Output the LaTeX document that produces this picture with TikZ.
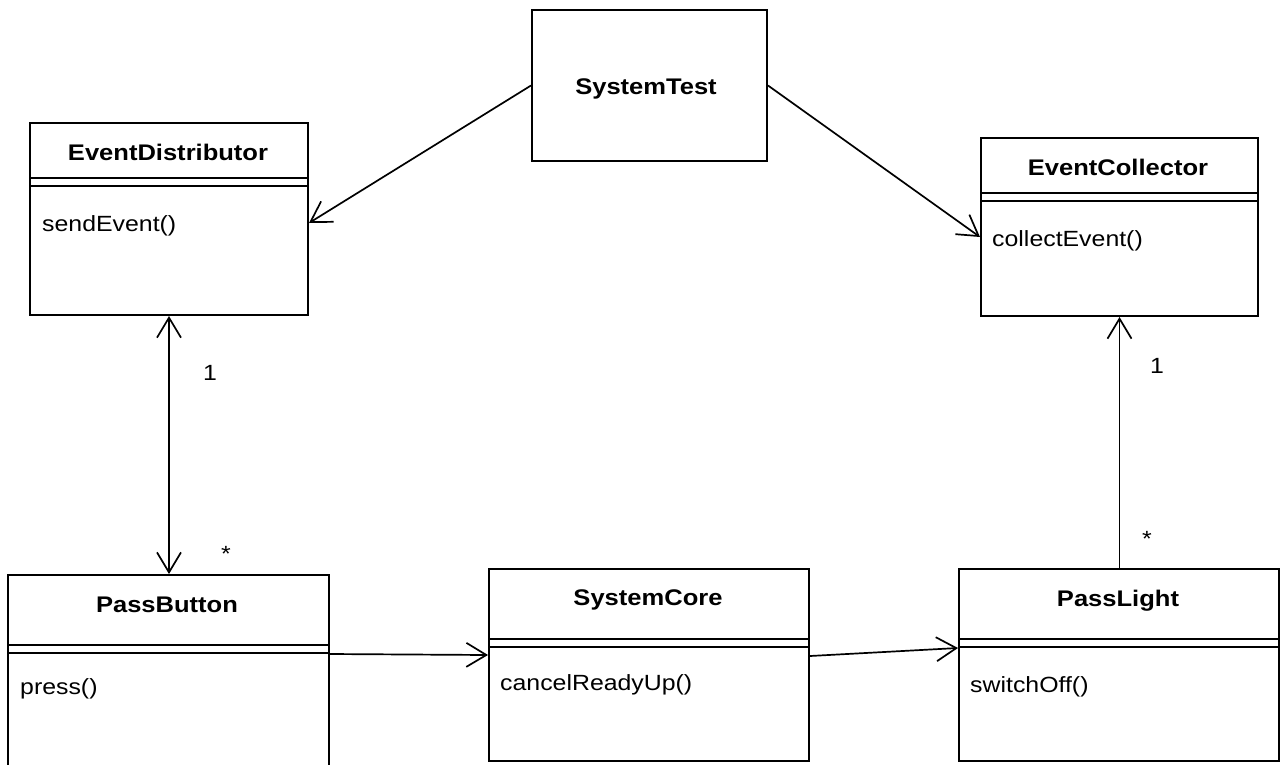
\documentclass[tikz,border=0pt]{standalone}
\usepackage{fontspec}
\setmainfont{Liberation Sans}[FakeStretch=1.13]
\usetikzlibrary{arrows.meta,calc}
\begin{document}
\begin{tikzpicture}[x=1pt,y=-1pt,
  classbox/.style={draw, line width=2pt, inner sep=0pt, anchor=north west, fill=white},
  divider/.style={line width=2pt},
  ttl/.style={font=\fontsize{22.6}{26}\selectfont\bfseries, inner sep=0pt, text height=16pt, text depth=0pt},
  meth/.style={font=\fontsize{22}{26}\selectfont, inner sep=0pt, text height=16pt, text depth=0pt, anchor=west},
  mult/.style={font=\fontsize{22}{26}\selectfont, inner sep=0pt, text height=16pt, text depth=0pt},
  conn/.style={line width=1.7pt},
  tip/.style={-{Straight Barb[length=20pt,width=24pt]}}
]
\useasboundingbox (0,0) rectangle (1282,764);

% SystemTest
\node[classbox, minimum width=235pt, minimum height=151pt] (st) at (531,9) {};
\node[ttl] (stt) at (646,86) {SystemTest};

% EventDistributor
\node[classbox, minimum width=278pt, minimum height=192pt] (ed) at (29,122) {};
\draw[divider] (ed.west |- 0,178) -- (ed.east |- 0,178);
\draw[divider] (ed.west |- 0,186) -- (ed.east |- 0,186);
\node[ttl] (edt) at (168,152) {EventDistributor};
\node[meth] (edm) at (42,223) {sendEvent()};

% EventCollector
\node[classbox, minimum width=277pt, minimum height=178pt] (ec) at (980,137) {};
\draw[divider] (ec.west |- 0,193) -- (ec.east |- 0,193);
\draw[divider] (ec.west |- 0,201) -- (ec.east |- 0,201);
\node[ttl] (ect) at (1118,167) {EventCollector};
\node[meth] (ecm) at (992,238) {collectEvent()};

% PassButton
\node[classbox, minimum width=321pt, minimum height=194pt] (pb) at (7,574) {};
\draw[divider] (pb.west |- 0,645) -- (pb.east |- 0,645);
\draw[divider] (pb.west |- 0,653) -- (pb.east |- 0,653);
\node[ttl] (pbt) at (167,604) {PassButton};
\node[meth] (pbm) at (20,686) {press()};

% SystemCore
\node[classbox, minimum width=320pt, minimum height=192pt] (sc) at (488,568) {};
\draw[divider] (sc.west |- 0,639) -- (sc.east |- 0,639);
\draw[divider] (sc.west |- 0,647) -- (sc.east |- 0,647);
\node[ttl] (sct) at (648,597) {SystemCore};
\node[meth] (scm) at (500,682) {cancelReadyUp()};

% PassLight
\node[classbox, minimum width=320pt, minimum height=192pt] (pl) at (958,568) {};
\draw[divider] (pl.west |- 0,639) -- (pl.east |- 0,639);
\draw[divider] (pl.west |- 0,647) -- (pl.east |- 0,647);
\node[ttl] (plt) at (1118,598) {PassLight};
\node[meth] (plm) at (970,684) {switchOff()};

% connectors
\draw[conn, tip] (st.west) -- ($(ed.east)+(0,4)$);
\draw[conn, tip] (st.east) -- ($(ec.west)+(0,10)$);
\draw[conn, {Straight Barb[length=20pt,width=24pt]}-{Straight Barb[length=20pt,width=24pt]}] (ed.south) -- (pb.north -| ed.south);
\draw[conn, tip] (pb.east |- 0,654) -- (sc.west |- 0,655);
\draw[conn, tip] (sc.east |- 0,656) -- (pl.west |- 0,648);
\draw[conn, tip] (pl.north -| ec.south) -- (ec.south);

% multiplicities
\node[mult] (m1) at (210,372) {1};
\node[mult] (m2) at (226,553) {*};
\node[mult] (m3) at (1157,365) {1};
\node[mult] (m4) at (1147,538) {*};
\end{tikzpicture}
\end{document}
